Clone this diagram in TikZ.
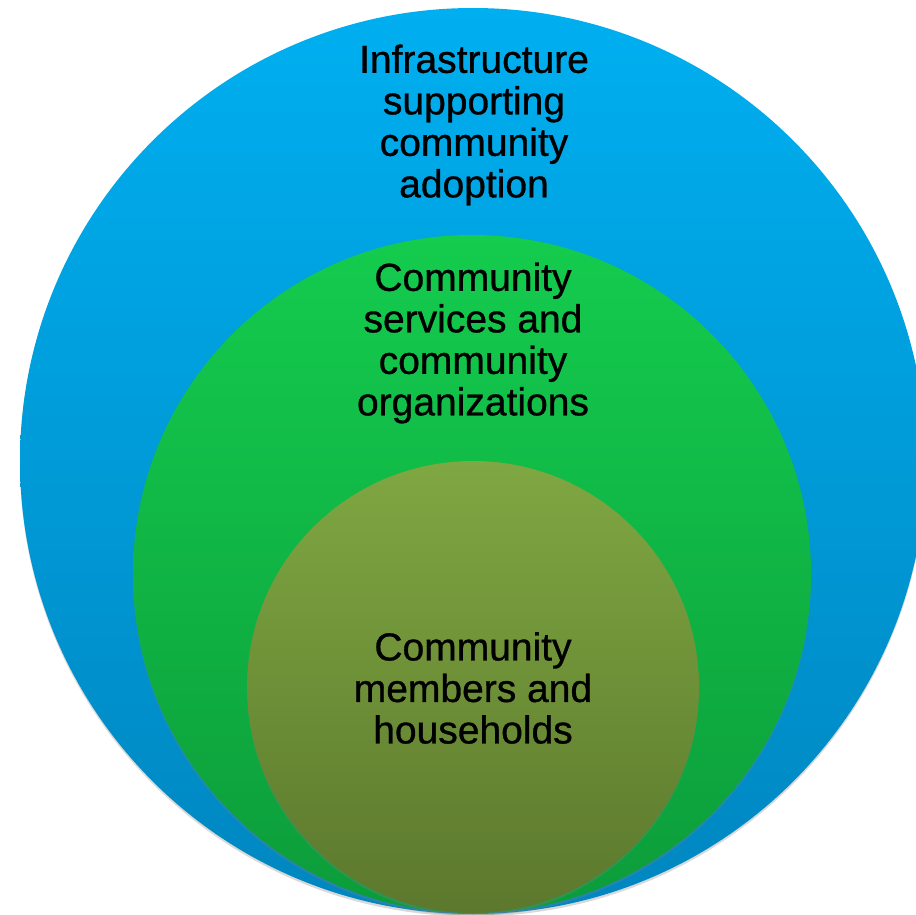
\documentclass[tikz,border=0pt]{standalone}
\usepackage{fontspec}
\setmainfont{Liberation Sans}
\newfontfamily\lblfont{Liberation Sans}[FakeBold=0.8]
\usetikzlibrary{shadows}
\definecolor{bluetop}{HTML}{00AFF0}
\definecolor{bluebot}{HTML}{0086C0}
\definecolor{greentop}{HTML}{14CC4E}
\definecolor{greenbot}{HTML}{0C9C3A}
\definecolor{olivetop}{HTML}{7FA742}
\definecolor{olivebot}{HTML}{5C782D}
\tikzset{
  ring/.style={circle, inner sep=0pt, draw=none,
    drop shadow={opacity=0.3, shadow xshift=0pt, shadow yshift=-2.5pt, shadow scale=1.0}},
  lbl/.style={align=center, inner sep=0pt, text=black,
    font=\lblfont\fontsize{39}{41.5}\selectfont}
}
\begin{document}
\begin{tikzpicture}[x=1pt,y=-1pt]
\useasboundingbox (0,0) rectangle (916,915);
\clip (0,0) rectangle (916,915);
\node[ring, minimum size=906pt, top color=bluetop, bottom color=bluebot] (outer) at (473,461) {};
\node[ring, minimum size=678pt, top color=greentop, bottom color=greenbot] (middle) at (472,574) {};
\node[ring, minimum size=452pt, top color=olivetop, bottom color=olivebot] (inner) at (473,687) {};
\node[lbl] (t1) at (474,125) {Infrastructure\\supporting\\community\\adoption};
\node[lbl] (t2) at (473,343) {Community\\services and\\community\\organizations};
\node[lbl] (t3) at (473,688) {Community\\members and\\households};
\end{tikzpicture}
\end{document}
